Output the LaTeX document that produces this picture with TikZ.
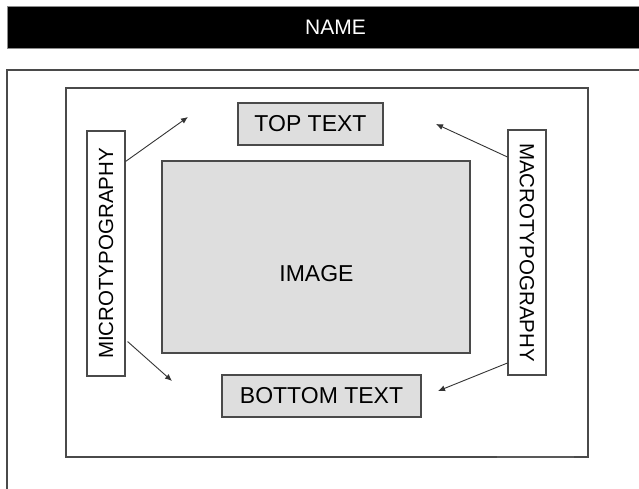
\documentclass[tikz,border=0pt]{standalone}
\usepackage{fontspec}
\setmainfont{Liberation Sans}
\usetikzlibrary{arrows.meta,positioning}
\usetikzlibrary{calc}
\definecolor{boxgray}{HTML}{DEDEDE}
\definecolor{linegray}{HTML}{4A4A4A}

\begin{document}
\begin{tikzpicture}[x=1pt, y=-1pt,
    graybox/.style={draw=linegray, fill=boxgray, line width=1.1pt, inner sep=0pt},
    sidebox/.style={draw=linegray, fill=white, line width=1.1pt, inner sep=0pt, minimum width=38, minimum height=245, font=\fontsize{20.5}{24}\selectfont},
    pointer/.style={-{Latex[length=7pt, width=6pt]}, line width=0.9pt, draw=black!80}]

        \useasboundingbox (0,0) rectangle (639,489);

        % Define font sizes
        \def\boxfont{\fontsize{23}{27}\selectfont}

        % header bar
        \node[fill=black, draw=black!45, line width=0.8pt, minimum width=657, minimum height=42, inner sep=0pt, text=white, font=\fontsize{21}{25}\selectfont] (name_bar) at (335.5,27) {NAME};

        % page frame and layout frame
        \draw[linegray, line width=1.3pt] (649,70) -- (7,70) -- (7,499);
        \draw[linegray, line width=1.3pt] (66,88) rectangle (588,457);
        \draw[black!65, line width=2.8pt] (497,457) -- (574,457);

        % text and image boxes
        \node[graybox, minimum width=145, minimum height=42, font=\boxfont] (top_text) at (310.5,124) {TOP TEXT};
        \node[graybox, minimum width=308, minimum height=192] (image) at (316,257) {};
        \node[font=\boxfont] (image_label) at (316.5,273.5) {IMAGE};
        \node[graybox, minimum width=199, minimum height=42, font=\boxfont] (bottom_text) at (321.5,396) {BOTTOM TEXT};

        % side boxes
        \node[sidebox] (micro) at (106,253.5) {\rotatebox{90}{MICROTYPOGRAPHY}};
        \node[sidebox] (macro) at (527,252.5) {\rotatebox{-90}{MACROTYPOGRAPHY}};

        % arrows
        \coordinate (top_left_tip) at (188,117);
        \coordinate (top_right_tip) at (436,124);
        \coordinate (bottom_left_tip) at (172,381);
        \coordinate (bottom_right_tip) at (438,391);
        \draw[pointer] ($(micro.east)+(0,-92)$) -- (top_left_tip);
        \draw[pointer] ($(micro.east)+(2,88)$) -- (bottom_left_tip);
        \draw[pointer] ($(macro.west)+(0,-95.5)$) -- (top_right_tip);
        \draw[pointer] ($(macro.west)+(0,110.5)$) -- (bottom_right_tip);

\end{tikzpicture}
\end{document}
